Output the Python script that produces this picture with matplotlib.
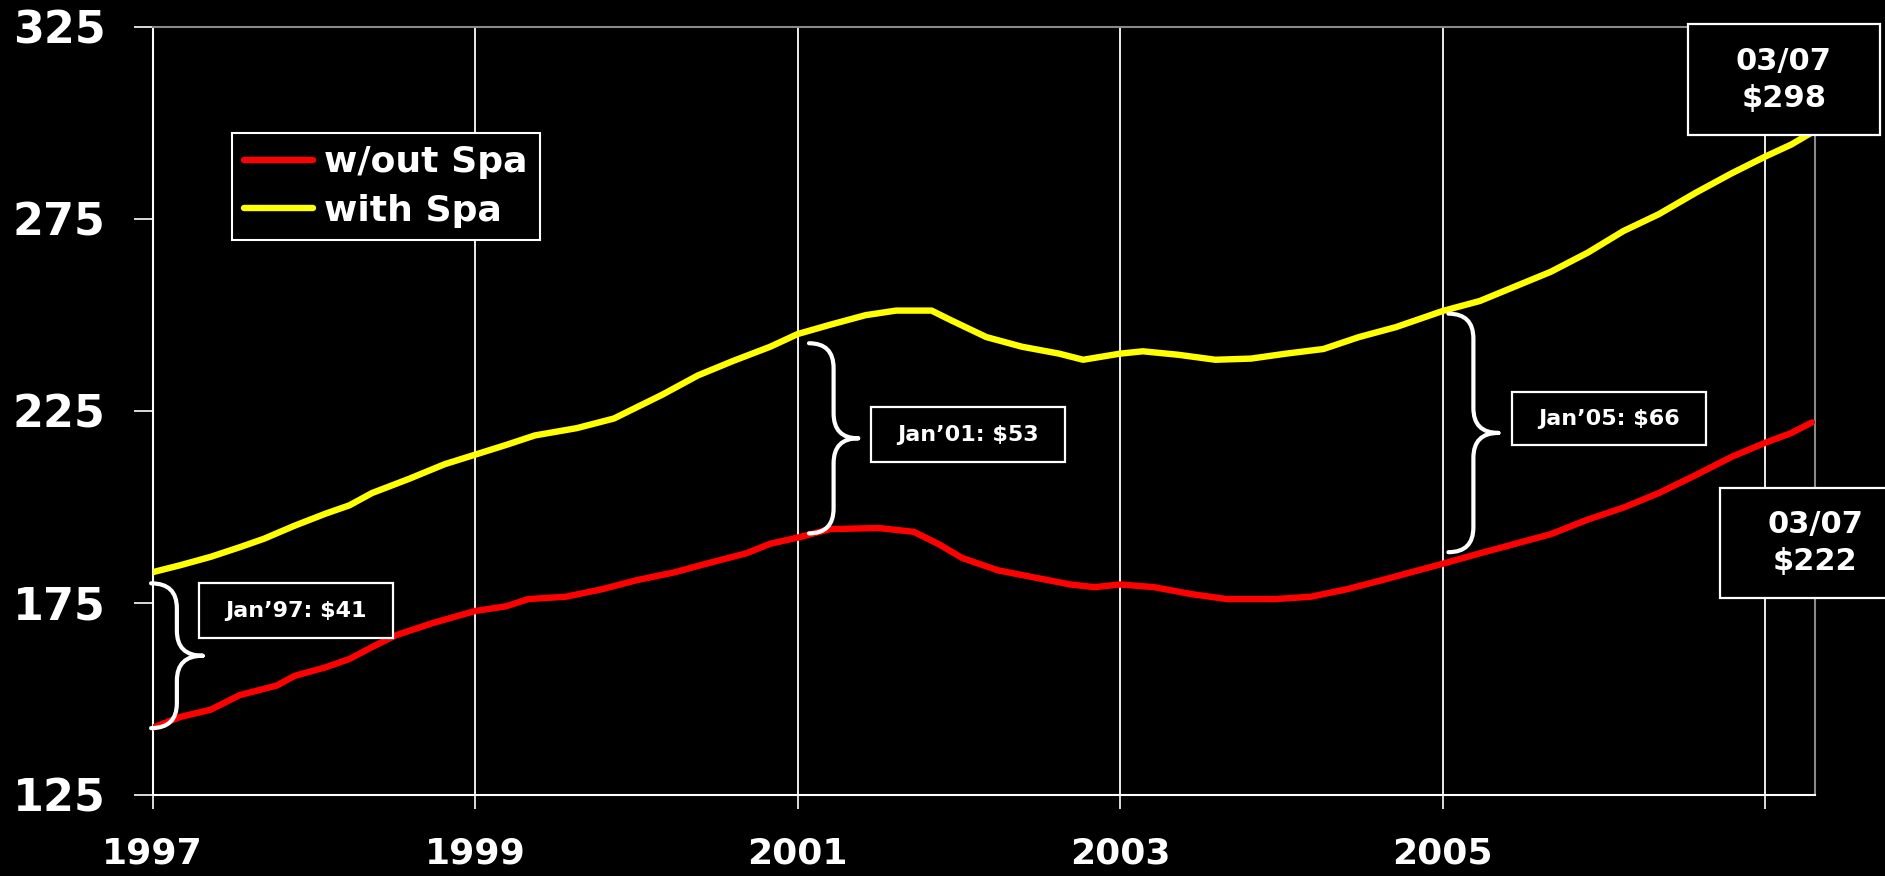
import matplotlib
matplotlib.use("Agg")
import matplotlib.pyplot as plt
from matplotlib.path import Path
from matplotlib.patches import PathPatch, Rectangle

# price index (decimal years)
years_red = [1997.00, 1997.17, 1997.36, 1997.54, 1997.77, 1997.88,
             1998.07, 1998.22, 1998.36, 1998.51, 1998.74,
             1999.00, 1999.19, 1999.33, 1999.56, 1999.78,
             2000.01, 2000.23, 2000.45, 2000.68, 2000.83,
             2001.00, 2001.20, 2001.50, 2001.72, 2001.87,
             2002.02, 2002.24, 2002.47, 2002.69, 2002.84,
             2003.00, 2003.21, 2003.44, 2003.66, 2003.96,
             2004.18, 2004.40, 2004.63, 2004.85,
             2005.00, 2005.23, 2005.45, 2005.67, 2005.90,
             2006.12, 2006.34, 2006.57, 2006.79,
             2007.00, 2007.16, 2007.29]
without_spa = [142.5, 145.3, 147.2, 151.0, 153.5, 156.0,
               158.2, 160.4, 163.5, 166.6, 169.8,
               172.9, 174.1, 176.0, 176.6, 178.5,
               181.0, 182.9, 185.4, 187.9, 190.4,
               192.0, 194.2, 194.5, 193.5, 190.4,
               186.7, 183.5, 181.6, 179.8, 179.1,
               179.8, 179.1, 177.3, 176.0, 176.0,
               176.6, 178.5, 181.0, 183.5,
               185.2, 187.9, 190.4, 192.9, 196.7,
               199.8, 203.6, 208.3, 213.0,
               216.7, 219.2, 222.0]

years_yel = [1997.00, 1997.17, 1997.36, 1997.54, 1997.69, 1997.88,
             1998.07, 1998.22, 1998.36, 1998.59, 1998.81,
             1999.00, 1999.19, 1999.37, 1999.63, 1999.86,
             2000.01, 2000.16, 2000.38, 2000.60, 2000.83,
             2001.00, 2001.20, 2001.42, 2001.61, 2001.83,
             2001.95, 2002.17, 2002.39, 2002.62, 2002.77,
             2003.00, 2003.14, 2003.36, 2003.59, 2003.81,
             2004.03, 2004.26, 2004.48, 2004.71,
             2005.00, 2005.23, 2005.45, 2005.67, 2005.90,
             2006.12, 2006.34, 2006.57, 2006.79,
             2007.00, 2007.16, 2007.29]
with_spa = [183.0, 184.8, 187.0, 189.5, 191.7, 195.1,
            198.2, 200.4, 203.6, 207.3, 211.1,
            213.6, 216.1, 218.6, 220.5, 223.0,
            226.1, 229.2, 234.2, 238.0, 241.7,
            245.0, 247.4, 249.9, 251.1, 251.1,
            248.6, 244.2, 241.7, 239.9, 238.3,
            239.9, 240.5, 239.6, 238.3, 238.6,
            239.9, 241.1, 244.2, 246.8,
            251.0, 253.6, 257.4, 261.2, 266.2,
            271.8, 276.2, 281.8, 286.8,
            291.2, 294.3, 297.5]

xticks = [1997, 1999, 2001, 2003, 2005, 2007]
xlabels = ["1997", "1999", "2001", "2003", "2005", ""]
yticks = [125, 175, 225, 275, 325]

gap_labels = ["Jan\u201997: \\$41", "Jan\u201901: \\$53", "Jan\u201905: \\$66"]

fig = plt.figure(figsize=(18.85, 8.76), dpi=100, facecolor="black")
ax = fig.add_axes([0.081, 0.0925, 0.882, 0.877])
ax.set_facecolor("black")

ax.plot(years_red, without_spa, color="#ff0000", lw=4.6, label="w/out Spa",
        solid_capstyle="round", zorder=3)
ax.plot(years_yel, with_spa, color="#ffff00", lw=4.6, label="with Spa",
        solid_capstyle="round", zorder=3)

ax.set_xlim(1997, 2007.31)
ax.set_ylim(125, 325)
ax.set_xticks(xticks)
ax.set_xticklabels(xlabels)
ax.set_yticks(yticks)
ax.xaxis.grid(True, color="white", lw=1.3)
ax.yaxis.grid(False)

for s in ["left", "bottom"]:
    ax.spines[s].set_color("white")
    ax.spines[s].set_linewidth(1.5)
for s in ["top", "right"]:
    ax.spines[s].set_color("#8a8a8a")
    ax.spines[s].set_linewidth(1.5)

ax.tick_params(axis="y", colors="white", length=14, width=1.2, pad=20,
               labelsize=32)
ax.tick_params(axis="x", colors="white", length=10, width=1.2, pad=20,
               labelsize=26)
for t in ax.get_xticklabels() + ax.get_yticklabels():
    t.set_fontweight("bold")

leg = ax.legend(loc="upper left", bbox_to_anchor=(0.0475, 0.862),
                borderaxespad=0, fancybox=False, facecolor="black",
                edgecolor="white", framealpha=1,
                prop={"size": 26, "weight": "bold"}, labelcolor="white",
                handlelength=1.9, handletextpad=0.3, borderpad=0.35,
                labelspacing=0.4)
leg.get_frame().set_linewidth(1.5)
leg.set_zorder(5)


def brace(x0, x1, ytop, ybot, r=6.5):
    xm = (x0 + x1) / 2
    ymid = (ytop + ybot) / 2
    verts = [(x0, ytop), (xm, ytop), (xm, ytop - r),
             (xm, ymid + r), (xm, ymid), (x1, ymid),
             (x1, ymid), (xm, ymid), (xm, ymid - r),
             (xm, ybot + r), (xm, ybot), (x0, ybot)]
    codes = [Path.MOVETO, Path.CURVE3, Path.CURVE3,
             Path.LINETO, Path.CURVE3, Path.CURVE3,
             Path.MOVETO, Path.CURVE3, Path.CURVE3,
             Path.LINETO, Path.CURVE3, Path.CURVE3]
    ax.add_patch(PathPatch(Path(verts, codes), fill=False, edgecolor="white",
                           lw=3, capstyle="round", zorder=4, clip_on=False))


def box(x0, x1, y0, y1, text, size, tx=None, ty=None):
    ax.add_patch(Rectangle((x0, y0), x1 - x0, y1 - y0, facecolor="black",
                           edgecolor="white", lw=1.6, zorder=6, clip_on=False))
    ax.text((x0 + x1) / 2 if tx is None else tx,
            (y0 + y1) / 2 if ty is None else ty, text,
            color="white", fontsize=size, fontweight="bold", ha="center",
            va="center", zorder=7, clip_on=False, linespacing=1.35)


brace(1996.99, 1997.31, 180.1, 142.4)
brace(2001.07, 2001.375, 242.6, 193.1)
brace(2005.035, 2005.345, 250.3, 188.2)

box(1997.286, 1998.49, 165.8, 180.1, gap_labels[0], 16)
box(2001.456, 2002.66, 211.6, 225.9, gap_labels[1], 16)
box(2005.427, 2006.63, 216.0, 229.9, gap_labels[2], 16)

box(2006.52, 2007.71, 296.7, 325.8, "03/07\n\\$298", 22)
box(2006.72, 2007.91, 176.2, 204.9, "03/07\n\\$222", 22, tx=2007.31)

fig.savefig("out.png", dpi=100, facecolor="black")
